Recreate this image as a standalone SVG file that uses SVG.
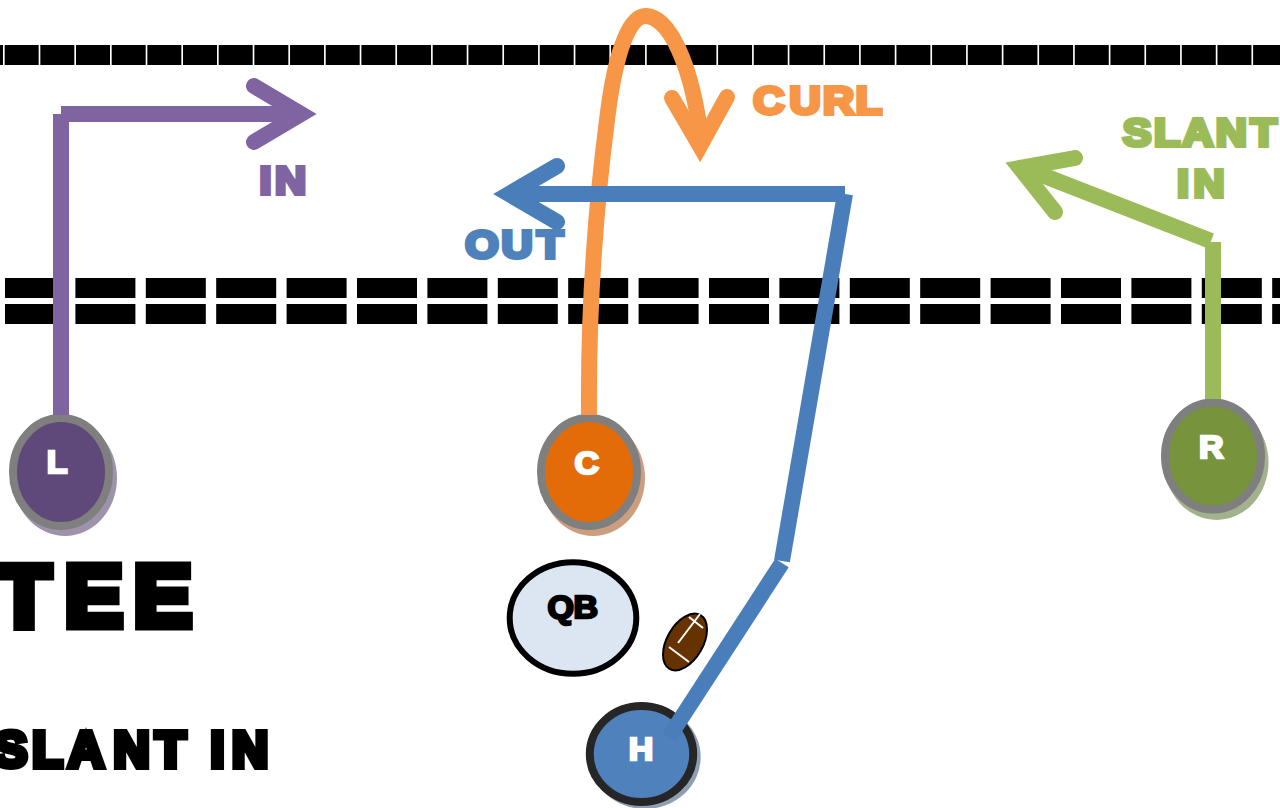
<svg xmlns="http://www.w3.org/2000/svg" width="1280" height="808" viewBox="0 0 1280 808">
<style>
.t{font-family:"Liberation Sans",Arial,sans-serif;font-weight:700;stroke-linejoin:miter}
.lbl{font-size:43px;stroke-width:4.5}
.nl{font-size:34px;stroke-width:2.6;fill:#fff;stroke:#fff}
.band{stroke:#000;fill:none}
.c{fill:none;stroke-width:16;stroke-linecap:butt;stroke-linejoin:miter}
.head{fill:none;stroke-width:16;stroke-linecap:round;stroke-linejoin:miter}
.ring{stroke:#7f7f7f;stroke-width:8}
.purple{stroke:#8064a2}.orange{stroke:#f79646}.blue{stroke:#4a7ebb}.green{stroke:#9bbb59}
</style>
<rect width="1280" height="808" fill="#fff"/>
<g id="field">
<line class="band" x1="-31" y1="55" x2="1280" y2="55" stroke-width="20" stroke-dasharray="34 1.67"/>
<line class="band" x1="5" y1="288" x2="1280" y2="288" stroke-width="20" stroke-dasharray="60 10.4"/>
<line class="band" x1="5" y1="314" x2="1280" y2="314" stroke-width="20" stroke-dasharray="60 10.4"/>
</g>
<g id="node-L">
<ellipse cx="65" cy="478" rx="52" ry="58" fill="#9e93ab"/>
<ellipse class="ring" cx="61" cy="472" rx="48" ry="54" fill="#5f497a"/>
<text class="t nl" transform="translate(46.8 472.8) scale(1 .9)">L</text>
</g>
<g id="node-C">
<ellipse cx="593" cy="478" rx="52" ry="58" fill="#cb9e7f"/>
<ellipse class="ring" cx="589" cy="472" rx="48" ry="54" fill="#e36c09"/>
<text class="t nl" transform="translate(574.6 473.5) scale(1 .9)">C</text>
</g>
<g id="node-R">
<ellipse cx="1216.5" cy="462.5" rx="52" ry="57.5" fill="#a3b18d"/>
<ellipse class="ring" cx="1213" cy="456" rx="48" ry="53.5" fill="#77933c"/>
<text class="t nl" transform="translate(1198.9 458) scale(1 .9)">R</text>
</g>
<g id="node-QB">
<ellipse cx="573" cy="618" rx="63.3" ry="55.7" fill="#dce6f2" stroke="#000" stroke-width="6"/>
<text class="t nl" style="fill:#000;stroke:#000" x="547.5 573.6" transform="translate(0 617.5) scale(1 .9)">QB</text>
</g>
<g id="football">
<ellipse cx="685" cy="642" rx="18" ry="31" transform="rotate(30 685 642)" fill="#663300" stroke="#000" stroke-width="2"/>
<path d="M678 643L700 614M689 617L703 628M669 647L689 662" stroke="#fff" stroke-width="2" fill="none"/>
</g>
<g id="node-H">
<ellipse cx="645" cy="757" rx="55.7" ry="52" fill="#8f9fb3"/>
<ellipse cx="641.5" cy="754" rx="51.7" ry="48" fill="#4f81bd" stroke="#262626" stroke-width="8"/>
<text class="t nl" transform="translate(628.8 760) scale(1 .9)">H</text>
</g>
<g id="connectors">
<g id="route-in">
<path class="c purple" d="M61 415V114"/>
<path class="c purple" d="M61 114H295"/>
<path class="head purple" d="M254 86L301 114L254 142"/>
</g>
<g id="route-curl">
<path class="c orange" d="M589 415C588 300 598 190 607 120C613 70 625 15 646 16C668 17 692 60 702 146"/>
<path class="head orange" d="M672 98L700 146L727 97"/>
</g>
<g id="route-out">
<path class="c blue" d="M845 194H512"/>
<path class="head blue" d="M557 166L509 194L557 222"/>
<path class="c blue" d="M845 194L782 561"/>
<path class="c blue" d="M782 563L669 737"/>
</g>
<g id="route-slant">
<path class="c green" d="M1213 242V399"/>
<path class="c green" d="M1211 241L1024 168"/>
<path class="head green" d="M1075 158L1020 168L1055 212"/>
</g>
</g>
<g id="labels">
<text class="t lbl" fill="#8064a2" stroke="#8064a2" x="259.5 275" transform="translate(0 194) scale(1 .9)">IN</text>
<text class="t lbl" fill="#f79646" stroke="#f79646" x="753.3 789.5 822.9 855.7" transform="translate(0 114) scale(1 .9)">CURL</text>
<text class="t lbl" fill="#4f81bd" stroke="#4f81bd" x="465.2 501.5 536.9" transform="translate(0 258) scale(1 .9)">OUT</text>
<text class="t lbl" fill="#9bbb59" stroke="#9bbb59" x="1122.8 1154.1 1182.3 1215.8 1250.4" transform="translate(0 146) scale(1 .9)">SLANT</text>
<text class="t lbl" fill="#9bbb59" stroke="#9bbb59" x="1177 1193.5" transform="translate(0 197.3) scale(1 .9)">IN</text>
<text class="t" fill="#000" stroke="#000" x="-2.5 64.7 133.7" y="625.8" font-size="87" stroke-width="9">TEE</text>
<text class="t" fill="#000" stroke="#000" x="-6 32.3 68 113.5 155.2 195 210.5 232" y="767" font-size="50" stroke-width="6">SLANT IN</text>
</g>
</svg>
